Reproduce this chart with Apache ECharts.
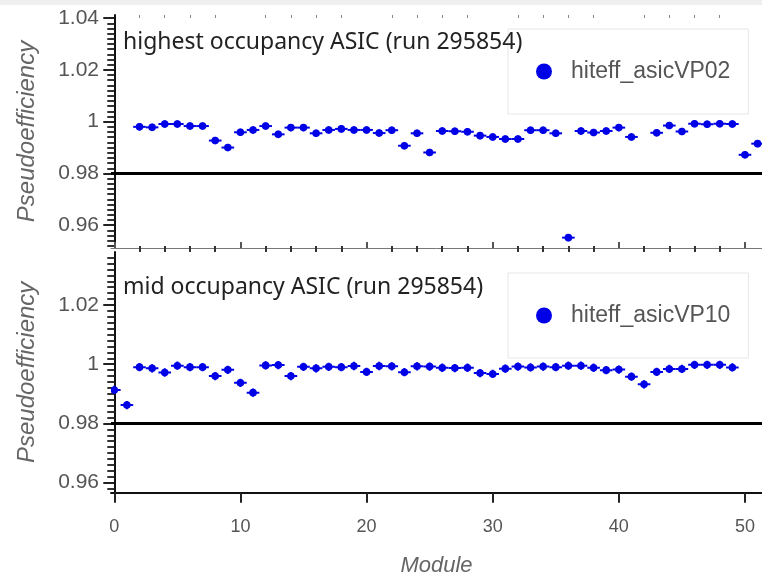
<!DOCTYPE html>
<html><head><meta charset="utf-8">
<script src="https://cdn.jsdelivr.net/npm/echarts@6/dist/echarts.min.js"></script>
<style>html,body{margin:0;padding:0;background:#fff}#c{width:762px;height:578px}</style>
</head><body><div id="c"></div>
<script>
// ---- data ----
const topTitle = 'highest occupancy ASIC (run 295854)';
const bottomTitle = 'mid occupancy ASIC (run 295854)';
const topSeriesName = 'hiteff_asicVP02';
const bottomSeriesName = 'hiteff_asicVP10';
const topModules = [2,3,4,5,6,7,8,9,10,11,12,13,14,15,16,17,18,19,20,21,22,23,24,25,26,27,28,29,30,31,32,33,34,35,36,37,38,39,40,41,43,44,45,46,47,48,49,50,51];
const topValues = [0.9980,0.9978,0.9991,0.9991,0.9983,0.9983,0.9927,0.9900,0.9959,0.9968,0.9983,0.9951,0.9977,0.9977,0.9955,0.9968,0.9972,0.9968,0.9968,0.9956,0.9967,0.9907,0.9955,0.9881,0.9964,0.9963,0.9961,0.9946,0.9941,0.9933,0.9933,0.9967,0.9967,0.9955,0.9552,0.9964,0.9958,0.9964,0.9977,0.9941,0.9957,0.9985,0.9962,0.9992,0.9990,0.9992,0.9991,0.9872,0.9915];
const bottomModules = [0,1,2,3,4,5,6,7,8,9,10,11,12,13,14,15,16,17,18,19,20,21,22,23,24,25,26,27,28,29,30,31,32,33,34,35,36,37,38,39,40,41,42,43,44,45,46,47,48,49];
const bottomValues = [0.9913,0.9862,0.9990,0.9986,0.9972,0.9995,0.9990,0.9990,0.9960,0.9981,0.9937,0.9904,0.9996,0.9997,0.9960,0.9991,0.9986,0.9991,0.9990,0.9994,0.9974,0.9994,0.9993,0.9973,0.9993,0.9992,0.9988,0.9987,0.9988,0.9970,0.9967,0.9985,0.9992,0.9989,0.9992,0.9990,0.9995,0.9995,0.9988,0.9980,0.9982,0.9958,0.9932,0.9974,0.9984,0.9984,0.9998,0.9998,0.9998,0.9989];
const threshold = 0.98;
const xTicks = [0,10,20,30,40,50];
const yTicksTop = [0.96,0.98,1,1.02,1.04];
const yTicksBottom = [0.96,0.98,1,1.02];
const xErr = 0.5, yErr = 0.0014;

// ---- helpers ----
function minorTicks(lo, hi, step, majors){
  const out=[];
  for(let i=Math.ceil(lo/step-1e-9); i*step<=hi+1e-9; i++){
    const v=+(i*step).toFixed(6);
    if(!majors.some(m=>Math.abs(m-v)<1e-9)) out.push(v);
  }
  return out;
}
const X_MIN=-0.26, X_MAX=51.35;
const TOP_MIN=0.9512, TOP_MAX=1.0412;
const BOT_MIN=0.9566, BOT_MAX=1.0379;
const BLUE='#0000e6';
const labelFont='Liberation Sans';

function renderItem(params, api){
  const x=api.value(0), y=api.value(1);
  const c=api.coord([x,y]);
  const l=api.coord([x-xErr,y]), r=api.coord([x+xErr,y]);
  const t=api.coord([x,y+yErr]), b=api.coord([x,y-yErr]);
  const cs=params.coordSys;
  const st={stroke:BLUE,lineWidth:2};
  return {type:'group',
    clipPath:{type:'rect',shape:{x:cs.x,y:cs.y,width:cs.width,height:cs.height}},
    children:[
      {type:'line',shape:{x1:l[0],y1:l[1],x2:r[0],y2:r[1]},style:st},
      {type:'line',shape:{x1:t[0],y1:t[1],x2:b[0],y2:b[1]},style:st},
      {type:'circle',shape:{cx:c[0],cy:c[1],r:3.8},style:{fill:BLUE}}
    ]};
}

function yMajor(grid,min,max,ticks){
  return {gridIndex:grid,type:'value',position:'left',min:min,max:max,
    name:'Pseudoefficiency',nameLocation:'middle',nameGap:72,
    nameTextStyle:{fontStyle:'italic',fontSize:24,color:'#666',fontFamily:labelFont},
    axisLine:{show:true,lineStyle:{color:'#111',width:2}},
    axisTick:{show:true,customValues:ticks,length:11,lineStyle:{color:'#222',width:2}},
    axisLabel:{customValues:ticks,margin:12,fontSize:21,color:'#555',fontFamily:labelFont},
    splitLine:{show:false}};
}
function yMinor(grid,min,max,majors){
  return {gridIndex:grid,type:'value',position:'left',min:min,max:max,
    axisLine:{show:false},
    axisTick:{show:true,customValues:minorTicks(min,max,0.002,majors),length:7,lineStyle:{color:'#333',width:2}},
    axisLabel:{show:false},splitLine:{show:false}};
}

const chart=echarts.init(document.getElementById('c'),null,{renderer:'canvas'});
chart.setOption({
  backgroundColor:'#fff',
  animation:false,
  graphic:[{type:'rect',shape:{x:0,y:0,width:762,height:5},style:{fill:'#efefef'}}],
  title:[
    {text:topTitle,left:118,top:26,textStyle:{fontFamily:'Noto Sans',fontSize:23,fontWeight:'normal',color:'#222'}},
    {text:bottomTitle,left:118,top:271,textStyle:{fontFamily:'Noto Sans',fontSize:23,fontWeight:'normal',color:'#222'}}
  ],
  legend:[
    {data:[topSeriesName],left:508,top:29,orient:'vertical',icon:'circle',itemWidth:16,itemHeight:16,itemGap:0,
      padding:[31,18,31,28],borderColor:'#e6e6e6',borderWidth:1,
      textStyle:{fontFamily:'Liberation Sans Narrow, Liberation Sans',fontSize:23,color:'#555',padding:[0,0,0,14]}},
    {data:[bottomSeriesName],left:508,top:273,orient:'vertical',icon:'circle',itemWidth:16,itemHeight:16,itemGap:0,
      padding:[31,18,31,28],borderColor:'#e6e6e6',borderWidth:1,
      textStyle:{fontFamily:'Liberation Sans Narrow, Liberation Sans',fontSize:23,color:'#555',padding:[0,0,0,14]}}
  ],
  grid:[
    {left:111,right:0,top:15,height:233},
    {left:111,right:0,top:252,height:240.7}
  ],
  xAxis:[
    {gridIndex:0,type:'value',min:X_MIN,max:X_MAX,
      axisLine:{show:true,lineStyle:{color:'#777',width:1}},
      axisTick:{show:true,inside:true,customValues:xTicks,length:6,lineStyle:{color:'#555',width:2}},
      axisLabel:{show:false},splitLine:{show:false}},
    {gridIndex:0,type:'value',min:X_MIN,max:X_MAX,
      axisLine:{show:false},
      axisTick:{show:true,inside:true,customValues:minorTicks(0,51,2,xTicks),length:3,lineStyle:{color:'#888',width:1}},
      axisLabel:{show:false},splitLine:{show:false}},
    {gridIndex:1,type:'value',min:X_MIN,max:X_MAX,
      name:'Module',nameLocation:'middle',nameGap:62,
      nameTextStyle:{fontStyle:'italic',fontSize:22,color:'#666',fontFamily:labelFont},
      axisLine:{show:true,lineStyle:{color:'#111',width:2}},
      axisTick:{show:true,customValues:xTicks,length:10,lineStyle:{color:'#222',width:2}},
      axisLabel:{customValues:xTicks,margin:25,fontSize:18,color:'#555',fontFamily:labelFont},
      splitLine:{show:false}},
    {gridIndex:1,type:'value',min:X_MIN,max:X_MAX,
      axisLine:{show:false},
      axisTick:{show:true,customValues:minorTicks(0,51,2,xTicks),length:6,lineStyle:{color:'#333',width:2}},
      axisLabel:{show:false},splitLine:{show:false}}
  ],
  yAxis:[
    yMajor(0,TOP_MIN,TOP_MAX,yTicksTop),
    yMinor(0,TOP_MIN,TOP_MAX,yTicksTop),
    yMajor(1,BOT_MIN,BOT_MAX,yTicksBottom),
    yMinor(1,BOT_MIN,BOT_MAX,yTicksBottom)
  ],
  series:[
    {name:topSeriesName,type:'custom',xAxisIndex:0,yAxisIndex:0,itemStyle:{color:BLUE},
      renderItem:renderItem,data:topModules.map((m,i)=>[m,topValues[i]]),
      markLine:{silent:true,symbol:['none','none'],label:{show:false},lineStyle:{color:'#000',width:3,type:'solid'},data:[{yAxis:threshold}]}},
    {name:bottomSeriesName,type:'custom',xAxisIndex:2,yAxisIndex:2,itemStyle:{color:BLUE},
      renderItem:renderItem,data:bottomModules.map((m,i)=>[m,bottomValues[i]]),
      markLine:{silent:true,symbol:['none','none'],label:{show:false},lineStyle:{color:'#000',width:3,type:'solid'},data:[{yAxis:threshold}]}}
  ]
});
</script></body></html>
